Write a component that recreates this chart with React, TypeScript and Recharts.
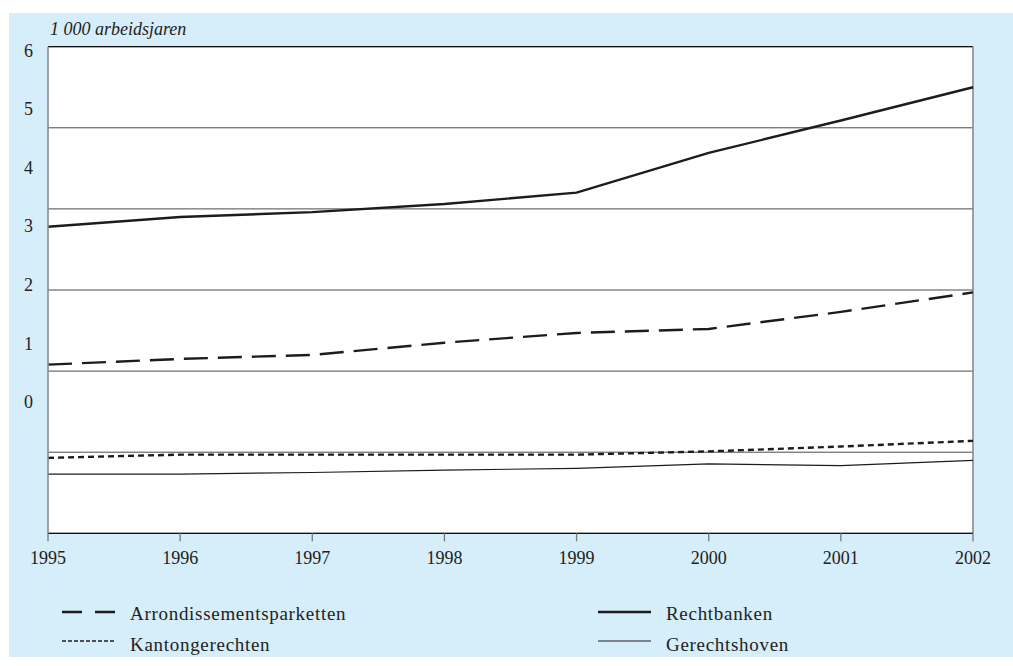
import React from 'react';
import { LineChart, Line, XAxis, YAxis, CartesianGrid, ReferenceLine } from 'recharts';

const YEARS = [1995, 1996, 1997, 1998, 1999, 2000, 2001, 2002];
const ARRONDISSEMENTSPARKETTEN = [2.08, 2.15, 2.2, 2.35, 2.47, 2.52, 2.73, 2.97];
const RECHTBANKEN = [3.78, 3.9, 3.96, 4.06, 4.2, 4.69, 5.09, 5.5];
const KANTONGERECHTEN = [0.93, 0.97, 0.97, 0.97, 0.97, 1.01, 1.07, 1.14];
const GERECHTSHOVEN = [0.73, 0.73, 0.75, 0.78, 0.8, 0.855, 0.835, 0.9];
const GRID_TICKS = [0, 1, 2, 3, 4, 5, 6];
const LABEL_TICKS = [0, 1, 2, 3, 4, 5, 6];
const LABEL_DOMAIN = [-2.249, 6.065];
const TITLE = '1 000 arbeidsjaren';

const SERIES = [
  { key: 'arr', name: 'Arrondissementsparketten', values: ARRONDISSEMENTSPARKETTEN, width: 2.4, dash: '24 10', legendDash: '20 13', legendWidth: 2.6 },
  { key: 'recht', name: 'Rechtbanken', values: RECHTBANKEN, width: 2.4, dash: undefined, legendDash: undefined, legendWidth: 2.6 },
  { key: 'kanton', name: 'Kantongerechten', values: KANTONGERECHTEN, width: 2.4, dash: '6 4', legendDash: '4 2', legendWidth: 1.6 },
  { key: 'hof', name: 'Gerechtshoven', values: GERECHTSHOVEN, width: 1.2, dash: undefined, legendDash: undefined, legendWidth: 1.1 },
];

const FONT = '"Liberation Serif", "Times New Roman", serif';
const W = 1004;
const H = 644;
const INK = '#1c1c1c';

const LEGEND_POS = [
  { col: 0, row: 0 },
  { col: 1, row: 0 },
  { col: 0, row: 1 },
  { col: 1, row: 1 },
];
const COL_X = [53, 589];
const ROW_ICON_Y = [599, 628];
const ROW_BASE_Y = [607, 638];

export default function App() {
  const data = YEARS.map((year, i) => {
    const row: Record<string, number> = { year };
    SERIES.forEach((s) => {
      row[s.key] = s.values[i];
    });
    return row;
  });

  return (
    <div
      style={{
        position: 'absolute',
        left: 9,
        top: 13,
        width: W,
        height: H,
        background: '#d6edfa',
        fontFamily: FONT,
      }}
    >
      <LineChart width={W} height={H} data={data} margin={{ top: 33.7, right: 40, bottom: 83.7, left: 0 }}>
        <CartesianGrid yAxisId="main" vertical={false} stroke="#4a4a4a" strokeWidth={1} fill="#ffffff" fillOpacity={1} />
        <XAxis
          dataKey="year"
          type="number"
          domain={[1995, 2002]}
          ticks={YEARS}
          height={40}
          tickSize={8}
          tickMargin={10}
          axisLine={{ stroke: '#111', strokeWidth: 1.3 }}
          tickLine={{ stroke: '#777', strokeWidth: 1.3 }}
          tick={{ fill: '#222', fontSize: 18, fontFamily: FONT }}
          interval={0}
        />
        <YAxis yAxisId="main" type="number" domain={[0, 6]} ticks={GRID_TICKS} hide />
        <YAxis
          yAxisId="lbl"
          type="number"
          domain={LABEL_DOMAIN}
          allowDataOverflow
          ticks={LABEL_TICKS}
          width={39}
          tickLine={false}
          tickSize={13}
          tickMargin={2}
          axisLine={{ stroke: '#8a8a8a', strokeWidth: 1.6 }}
          tick={{ fill: '#222', fontSize: 18, fontFamily: FONT }}
          interval={0}
        />
        <ReferenceLine yAxisId="main" y={6} stroke="#111" strokeWidth={1.3} />
        <ReferenceLine yAxisId="main" x={2002} stroke="#8a8a8a" strokeWidth={1.6} />
        {SERIES.map((s) => (
          <Line
            key={s.key}
            yAxisId="main"
            type="linear"
            dataKey={s.key}
            name={s.name}
            stroke={INK}
            strokeWidth={s.width}
            strokeDasharray={s.dash}
            dot={false}
            activeDot={false}
            isAnimationActive={false}
          />
        ))}
      </LineChart>
      <svg
        width={W}
        height={H}
        style={{ position: 'absolute', left: 0, top: 0, pointerEvents: 'none' }}
      >
        <text x={41} y={22} fontFamily={FONT} fontStyle="italic" fontSize={18} fill="#222">
          {TITLE}
        </text>
        {SERIES.map((s, i) => {
          const p = LEGEND_POS[i];
          const x0 = COL_X[p.col];
          const iy = ROW_ICON_Y[p.row];
          return (
            <g key={s.key}>
              <line
                x1={x0}
                x2={x0 + 53}
                y1={iy}
                y2={iy}
                stroke={INK}
                strokeWidth={s.legendWidth}
                strokeDasharray={s.legendDash}
              />
              <text
                x={x0 + 68}
                y={ROW_BASE_Y[p.row]}
                fontFamily={FONT}
                fontSize={19}
                letterSpacing={0.7}
                fill="#222"
              >
                {s.name}
              </text>
            </g>
          );
        })}
      </svg>
    </div>
  );
}
